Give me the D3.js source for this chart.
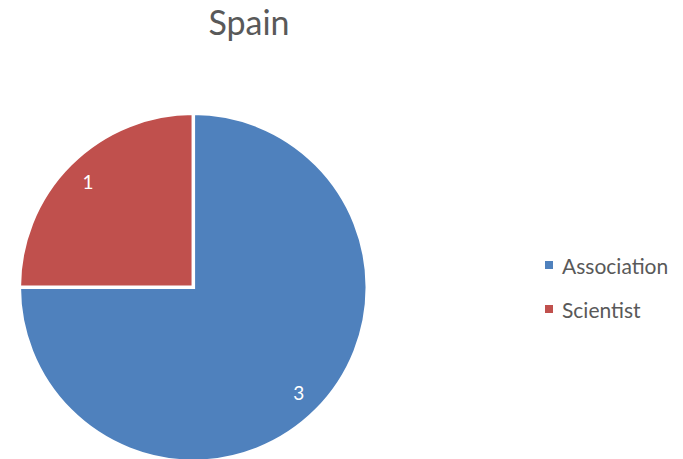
<!DOCTYPE html>
<html><head><meta charset="utf-8">
<script src="https://cdn.jsdelivr.net/npm/d3@7"></script>
<style>html,body{margin:0;padding:0;background:#fff;}</style>
</head><body>
<script>
const categories = ["Association", "Scientist"];
const values = [3, 1];
const colors = ["#4F81BD", "#C0504D"];
const title = "Spain";

const W = 683, H = 459;
const svg = d3.select("body").append("svg").attr("width", W).attr("height", H)
  .style("font-family", "Lato, 'Open Sans', sans-serif");

const cx = 193.3, cy = 287.3, r = 174;
const data = categories.map((c, i) => ({cat: c, value: values[i], color: colors[i]}));
const pie = d3.pie().value(d => d.value).sort(null);
const arcs = pie(data);
const arc = d3.arc().innerRadius(0).outerRadius(r);
const labelArc = d3.arc().innerRadius(149).outerRadius(149);

const g = svg.append("g").attr("transform", `translate(${cx},${cy})`);
g.selectAll("path").data(arcs).join("path")
  .attr("d", arc).attr("fill", d => d.data.color)
  .attr("stroke", "#fff").attr("stroke-width", 3.5).attr("stroke-linejoin", "miter");
g.selectAll("text").data(arcs).join("text")
  .attr("transform", d => `translate(${labelArc.centroid(d)})`)
  .attr("text-anchor", "middle").attr("dominant-baseline", "central")
  .attr("fill", "#fff").attr("font-size", 19)
  .text(d => d.data.value);

svg.append("text").attr("x", 249).attr("y", 35).attr("text-anchor", "middle")
  .attr("font-size", 34).attr("fill", "#595959").text(title);

const leg = svg.append("g");
const ly = d3.scalePoint().domain(categories).range([265, 309]);
leg.selectAll("rect").data(data).join("rect")
  .attr("x", 545).attr("y", d => ly(d.cat) - 4).attr("width", 8).attr("height", 8)
  .attr("fill", d => d.color);
leg.selectAll("text").data(data).join("text")
  .attr("x", 562).attr("y", d => ly(d.cat)).attr("dominant-baseline", "central")
  .attr("font-size", 21).attr("fill", "#595959").text(d => d.cat);
</script>
</body></html>
